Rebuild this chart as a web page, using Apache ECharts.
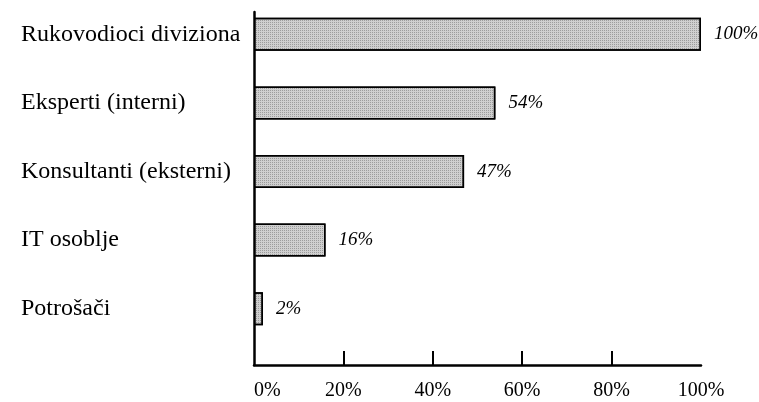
<!DOCTYPE html>
<html>
<head>
<meta charset="utf-8">
<script src="https://cdn.jsdelivr.net/npm/echarts@6/dist/echarts.min.js"></script>
<style>
html,body{margin:0;padding:0;background:#fff;}
#c{width:759px;height:402px;}
</style>
</head>
<body>
<div id="c"></div>
<script>
const categories = ['Rukovodioci diviziona', 'Eksperti (interni)', 'Konsultanti (eksterni)', 'IT osoblje', 'Potrošači'];
const values = [100, 54, 47, 16, 2];
const tickValues = [20, 40, 60, 80];
const axisLabelValues = [0, 20, 40, 60, 80, 100];

const serif = '"Liberation Serif", "Times New Roman", serif';
const chart = echarts.init(document.getElementById('c'), null, {renderer: 'canvas'});
chart.setOption({
  animation: false,
  backgroundColor: '#fff',
  grid: [
    {left: 254, right: 58, top: -7, height: 350},
    {left: 254, right: 58, top: 12, height: 353}
  ],
  xAxis: [
    {gridIndex: 0, type: 'value', min: 0, max: 100, show: false},
    {gridIndex: 1, type: 'value', min: 0, max: 100, interval: 20,
     axisLine: {show: true, lineStyle: {color: '#000', width: 2.5}},
     axisTick: {show: true, inside: true, length: 14, lineStyle: {color: '#000', width: 2}, customValues: tickValues},
     axisLabel: {show: true, customValues: axisLabelValues, formatter: '{value}%', margin: 16, color: '#000',
       fontFamily: serif, fontSize: 20, alignMinLabel: 'left'},
     splitLine: {show: false}}
  ],
  yAxis: [
    {gridIndex: 0, type: 'category', data: categories, inverse: true,
     axisLine: {show: false}, axisTick: {show: false},
     axisLabel: {align: 'left', margin: 233, color: '#000', fontFamily: serif, fontSize: 24}},
    {gridIndex: 1, type: 'value', min: 0, max: 1,
     axisLine: {show: true, lineStyle: {color: '#000', width: 2.5}},
     axisTick: {show: false}, axisLabel: {show: false}, splitLine: {show: false}}
  ],
  series: [{
    type: 'bar',
    xAxisIndex: 0, yAxisIndex: 0,
    data: values,
    barWidth: 33,
    itemStyle: {
      color: '#cfcfcf',
      borderColor: '#000',
      borderWidth: 1.5,
      decal: {symbol: 'rect', symbolSize: 1, dashArrayX: [1, 1], dashArrayY: [1, 1], color: 'rgba(60,60,60,0.35)'}
    },
    label: {
      show: true, position: 'right', distance: 13, formatter: '{c}%',
      color: '#000', fontFamily: serif, fontStyle: 'italic', fontSize: 19
    }
  }]
});
</script>
</body>
</html>
